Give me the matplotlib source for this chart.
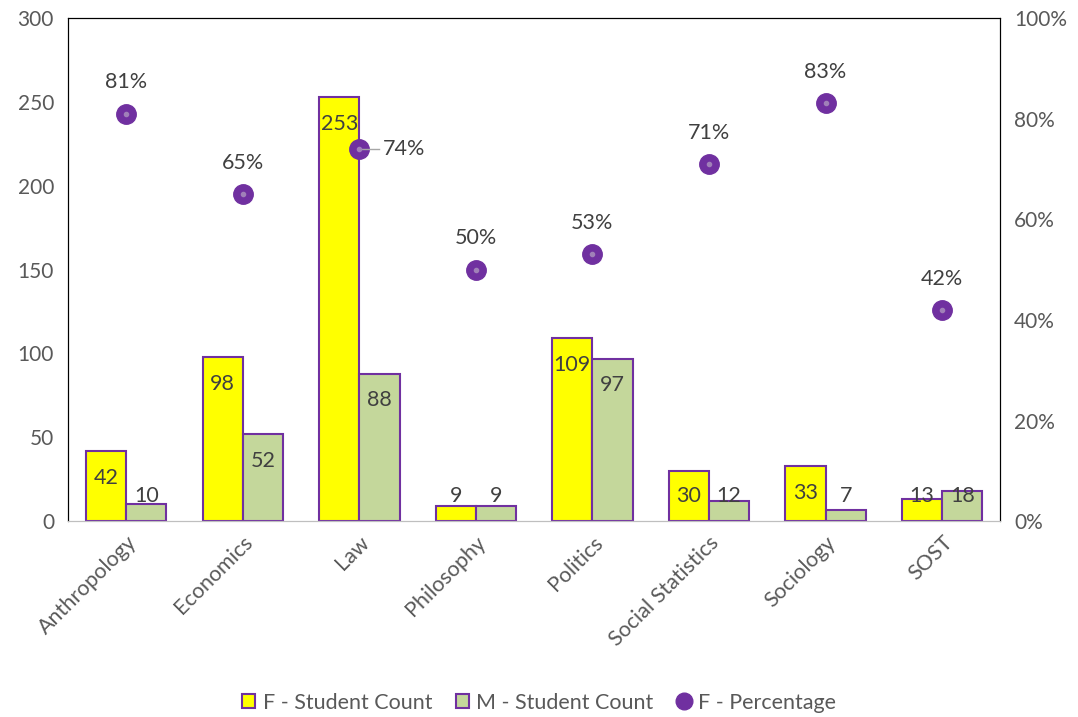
import matplotlib
matplotlib.use("Agg")
import matplotlib.pyplot as plt
import numpy as np
from matplotlib.lines import Line2D
from matplotlib.patches import Patch

plt.rcParams['font.family'] = ['Lato', 'DejaVu Sans']

subjects = ["Anthropology", "Economics", "Law", "Philosophy", "Politics",
            "Social Statistics", "Sociology", "SOST"]
f_count = [42, 98, 253, 9, 109, 30, 33, 13]
m_count = [10, 52, 88, 9, 97, 12, 7, 18]
f_pct = [0.81, 0.65, 0.74, 0.50, 0.53, 0.71, 0.83, 0.42]

yellow = "#FFFF00"
green = "#C4D79B"
purple = "#7030A0"
txt = "#404040"
tick_c = "#595959"

fig = plt.figure(figsize=(10.78, 7.17), dpi=100)
ax = fig.add_axes([0.063, 0.273, 0.865, 0.702])
ax2 = ax.twinx()

x = np.arange(len(subjects))
w = 0.345
ax.bar(x - w / 2, f_count, w, color=yellow, edgecolor=purple, linewidth=1.5, zorder=2)
ax.bar(x + w / 2, m_count, w, color=green, edgecolor=purple, linewidth=1.5, zorder=2)

for i in range(len(subjects)):
    for v, dx in ((f_count[i], -w / 2), (m_count[i], w / 2)):
        yl = max(v - 16, 15)
        ax.text(x[i] + dx, yl, str(v), ha="center", va="center", fontsize=15.5, color=txt, zorder=5)

ax.set_xlim(-0.5, len(subjects) - 0.5)
ax.set_ylim(0, 300)
ax.set_yticks(range(0, 301, 50))
ax.set_xticks(x)
ax.set_xticklabels(subjects, rotation=45, ha="right", rotation_mode="anchor", fontsize=15.5, color=tick_c)
ax.tick_params(axis="y", labelsize=15, colors=tick_c, length=0, pad=10)
ax.tick_params(axis="x", length=0, pad=8)

ax2.set_ylim(0, 1)
ax2.set_yticks(np.arange(0, 1.01, 0.2))
ax2.set_yticklabels([f"{int(round(t * 100))}%" for t in np.arange(0, 1.01, 0.2)])
ax2.tick_params(axis="y", labelsize=15, colors=tick_c, length=0, pad=10)

ax2.plot(x, f_pct, "o", markersize=14, color=purple, linestyle="none", zorder=4)
ax2.plot(x, f_pct, "o", markersize=3, color="#A080B8", linestyle="none", zorder=5)

for i, p in enumerate(f_pct):
    lab = f"{int(round(p * 100))}%"
    if subjects[i] == "Law":
        ax2.plot([x[i], x[i] + 0.17], [p, p], color="#A6A6A6", linewidth=1, zorder=4.5)
        ax2.text(x[i] + 0.2, p, lab, ha="left", va="center", fontsize=15.5, color=txt)
    else:
        ax2.text(x[i], p + 0.062, lab, ha="center", va="center", fontsize=15.5, color=txt)

for a in (ax, ax2):
    a.spines["bottom"].set_color("#BFBFBF")
    a.spines["left"].set_color("black")
    a.spines["right"].set_color("black")
    a.spines["top"].set_color("black")
ax2.set_zorder(ax.get_zorder() + 1)
ax.patch.set_visible(True)
ax2.patch.set_visible(False)

handles = [
    Patch(facecolor=yellow, edgecolor=purple, linewidth=1.5, label="F - Student Count"),
    Patch(facecolor=green, edgecolor=purple, linewidth=1.5, label="M - Student Count"),
    Line2D([], [], marker="o", color=purple, markersize=12, linestyle="none", label="F - Percentage"),
]
fig.legend(handles=handles, loc="center", bbox_to_anchor=(0.5, 0.02), ncol=3, frameon=False,
           fontsize=15.5, labelcolor=tick_c, handlelength=0.6, handleheight=0.6,
           handletextpad=0.35, columnspacing=1.1)

fig.savefig("out.png", dpi=100)
